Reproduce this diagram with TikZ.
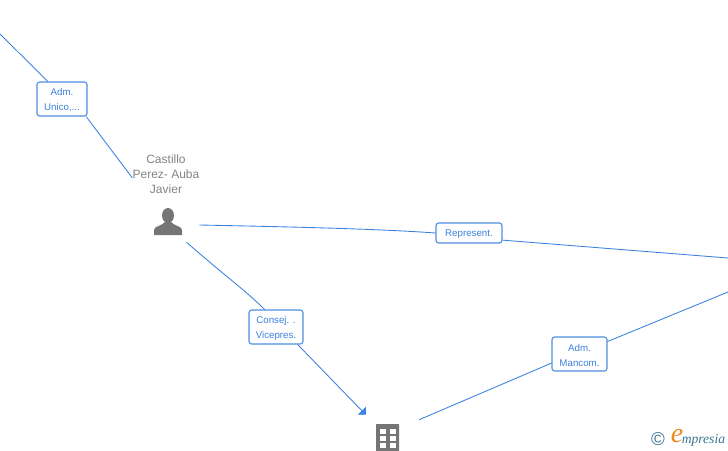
\documentclass[tikz,border=0pt]{standalone}
\usepackage{fontspec}
\setmainfont{Liberation Sans}
\newfontfamily\logofont{Liberation Serif}
\usetikzlibrary{arrows.meta}
\definecolor{liga}{HTML}{3B82E0}
\definecolor{gris}{HTML}{757575}
\definecolor{logoazul}{HTML}{3A7590}
\definecolor{logonaranja}{HTML}{F08A1D}
\newcommand{\alza}{\rule{0pt}{7.2pt}}
\tikzset{
  cargo/.style={draw=liga!90, fill=white, rounded corners=2pt, line width=0.85pt, text=liga, align=center,
    inner sep=0pt, minimum height=25.5pt, font=\fontsize{7.3}{11.25}\selectfont},
  hueco/.style={inner sep=0pt, minimum width=46.5pt, minimum height=25.5pt},
  liga/.style={draw=liga, line width=0.65pt}
}
\begin{document}
\begin{tikzpicture}[x=0.75pt, y=-0.75pt]
  \useasboundingbox (0,0) rectangle (728,450);

  \node[align=center, text=gris!90, inner sep=0pt, font=\fontsize{9}{11.1}\selectfont] (nombre) at (166,174) {Castillo\\Perez- Auba\\Javier};
  \node[hueco] (persona) at (168,225) {};
  \node[hueco, minimum height=33pt] (edificio) at (388,437) {};

  \node[cargo, minimum width=37.5pt] (unico) at (62,99) {\alza Adm.\\Unico,...};
  \node[cargo, minimum width=40.5pt] (consej) at (276,327) {\alza Consej. .\\Vicepres.};
  \node[cargo, minimum width=49.5pt, minimum height=15pt] (represent) at (469,233) {\alza Represent.};
  \node[cargo, minimum width=41.25pt] (mancom) at (579.5,354) {\alza Adm.\\Mancom.};

  \coordinate (arriba) at (0,34);
  \coordinate (derecha) at (728,258);
  \coordinate (derechab) at (728,292);

  \draw[liga] (arriba) -- (unico.129);
  \draw[liga] (unico.-36) -- (nombre.west |- 132,178);
  \draw[liga] (persona.east) .. controls (300,227) and (380,229) .. (represent.west);
  \draw[liga] (represent.-12) -- (derecha);
  \draw[liga] (persona.-43) .. controls (225,276) and (245,290) .. (consej.123);
  \draw[liga, -{Triangle[length=4.2pt, width=8.4pt]}] (consej.-39) -- (edificio.135);
  \draw[liga] (edificio.29) -- (mancom.198);
  \draw[liga] (mancom.24) -- (derechab);

  % persona
  \fill[gris] (168,215.5) ellipse (6 and 7.5);
  \fill[gris] (154,235) -- (154,230) .. controls (154,226) and (162,226) .. (165,222)
    -- (171,222) .. controls (174,226) and (182,226) .. (182,230) -- (182,235) -- cycle;

  % edificio
  \fill[gris, rounded corners=0.5pt] (376,424) rectangle (399,452);
  \foreach \fila in {429,436,443}
    \foreach \col in {380,390}
      \fill[white] (\col,\fila) rectangle ++(5.5,4.6);

  % logo
  \node[text=logoazul, inner sep=0pt, font=\fontsize{14}{15}\selectfont] (copy) at (658,439) {©};
  \node[text=logonaranja, inner sep=0pt, font=\logofont\itshape\fontsize{21}{21}\selectfont] (logoe) at (677,436) {e};
  \node[anchor=west, text=logoazul, inner sep=0pt, font=\logofont\itshape\fontsize{10.2}{11}\selectfont] (logotexto) at (681.5,440) {mpresia};
\end{tikzpicture}
\end{document}
